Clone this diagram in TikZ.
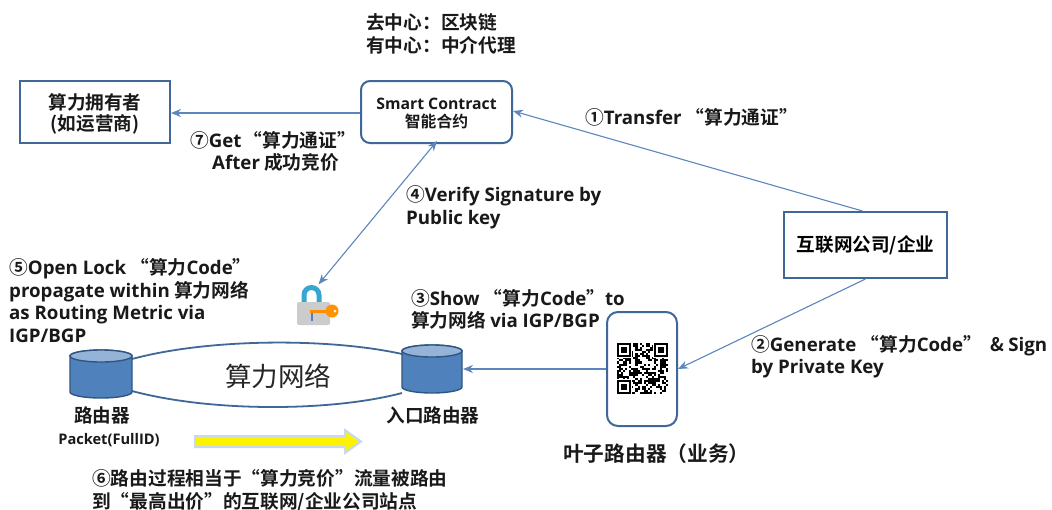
\documentclass[tikz,border=0pt]{standalone}
\usepackage{fontspec}
\setmainfont{Noto Sans CJK SC}[BoldFont={Noto Sans CJK SC Bold}]
\newfontfamily\lat{Open Sans}[BoldFont={Open Sans Bold}]
\newcommand{\la}[1]{{\lat #1}}
\usetikzlibrary{arrows.meta,shapes.geometric,shapes.arrows}
\definecolor{boxb}{HTML}{3F6797}
\definecolor{lineb}{HTML}{5B87BE}
\definecolor{cylb}{HTML}{4F81BD}
\definecolor{cylt}{HTML}{95B3D7}
\definecolor{cyle}{HTML}{2F5680}
\definecolor{arrowedge}{HTML}{C6D9F1}
\tikzset{
 x=1pt,y=-1pt,
 cbox/.style={draw=boxb,line width=2pt,fill=white,inner sep=0pt,font=\bfseries\fontsize{18.6}{22}\selectfont,align=center},
 conn/.style={draw=lineb,line width=1.1pt,-{Stealth[length=10pt,width=8pt]}},
 txt/.style={font=\bfseries\fontsize{18.7}{22.5}\selectfont,align=left,anchor=north west,inner sep=0pt,text=black!90},
 caplabel/.style={font=\bfseries\fontsize{18.6}{20}\selectfont,inner sep=0pt,text=black!90},
 netline/.style={draw=boxb,line width=1.8pt},
}
\newcommand{\cyl}[4]{% x1,x2,ytop,ybottom
 \fill[cylb,draw=cyle,line width=1.4pt] (#1,#3) -- (#1,#4) arc[x radius={(#2-#1)/2},y radius=6,start angle=180,end angle=0] -- (#2,#3) arc[x radius={(#2-#1)/2},y radius=6,start angle=0,end angle=-180] -- cycle;
 \fill[cylt,draw=cyle,line width=1.4pt] ({(#1+#2)/2},#3) ellipse[x radius={(#2-#1)/2},y radius=6];
}
\begin{document}
\begin{tikzpicture}
\useasboundingbox (0,0) rectangle (1052,509);
\fill[white] (0,0) rectangle (1052,509);
% boxes
\node[cbox,minimum width=150pt,minimum height=62pt] (owner) at (95,112) {};
\node[font=\bfseries\fontsize{18.6}{21.5}\selectfont,align=center,inner sep=0pt,text=black!90] (ownert) at (95,114) {算力拥有者\\(如运营商)};
\node[cbox,rounded corners=9pt,minimum width=151pt,minimum height=62pt] (sc) at (436.5,112) {};
\node[font=\bfseries\fontsize{15.8}{18}\selectfont,align=center,inner sep=0pt,text=black!90] (sct) at (436.5,113.5) {\la{Smart Contract}\\智能合约};
\node[cbox,minimum width=163pt,minimum height=66pt] (corp) at (865.5,245) {互联网公司/企业};
\node[cbox,rounded corners=11pt,minimum width=70pt,minimum height=114pt] (leaf) at (642,369) {};
% QR
\pgfmathsetseed{7}
\begin{scope}[shift={(617,343)}]
\foreach \i in {0,...,24}{\foreach \j in {0,...,24}{
  \pgfmathtruncatemacro{\r}{random(0,99)}
  \ifnum\r<50 \fill[black] (\i*2.05,\j*2.05) rectangle +(2.05,2.05);\fi
}}
\foreach \a/\b in {0/0,18/0,0/18}{
  \fill[white] (\a*2.05-1,\b*2.05-1) rectangle +(16.4,16.4);
  \fill[black] (\a*2.05,\b*2.05) rectangle +(14.35,14.35);
  \fill[white] (\a*2.05+2.05,\b*2.05+2.05) rectangle +(10.25,10.25);
  \fill[black] (\a*2.05+4.1,\b*2.05+4.1) rectangle +(6.15,6.15);
}
\end{scope}
% network
\draw[netline] (132,359) .. controls (210,338) and (330,338) .. (402,354);
\draw[netline] (132,391) .. controls (210,412) and (330,412) .. (402,393);
\node[font=\fontsize{26.5}{30}\selectfont,inner sep=0pt,text=black!85] (net) at (278,376) {算力网络};
\cyl{70}{132}{356}{392}
\cyl{402}{462}{351}{387}
\coordinate (ingress) at (463,369);
\node[caplabel] (l1) at (102,415) {路由器};
\node[caplabel] (l2) at (433,415) {入口路由器};
\node[font=\lat\bfseries\fontsize{14.6}{15}\selectfont,inner sep=0pt,text=black!90] (pk) at (109,440) {Packet(FullID)};
% yellow arrow
\draw[draw=arrowedge,line width=2pt,fill=yellow,line join=miter] (195,436) -- (345,436) -- (345,430) -- (361,441.5) -- (345,453) -- (345,447) -- (195,447) -- cycle;
% lock
\draw[line width=5pt,draw=cylb!70!cyan] (304,305) -- (304,295) arc[x radius=7.5,y radius=7.5,start angle=180,end angle=360] -- (319,305);
\fill[black!20,rounded corners=2pt] (297,302) rectangle (330,325);
\draw[line width=2.5pt,cylb] (312,310) -- (312,321);
\draw[line width=3pt,orange!90!yellow] (310,311) -- (330,311);
\fill[orange!85!yellow] (332,311) circle (6.5);
\fill[white] (335,311) circle (1.5);
\node[inner sep=0pt,minimum size=1pt] (lock) at (318,285) {};
% connectors
\draw[conn] (sc.west |- 0,113) -- (owner.east |- 0,113);
\draw[conn] (corp.north) ++(-3,0) -- ([yshift=1pt]sc.east);
\draw[conn] (corp.south) -- (leaf.east);
\draw[conn] (leaf.west) -- (ingress);
\draw[draw=lineb,line width=1.1pt,{Stealth[length=10pt,width=8pt]}-{Stealth[length=10pt,width=8pt]}] ([xshift=.5pt,yshift=3pt]sc.south) -- (lock);
% texts
\node[txt] (t0) at (366,13.5) {去中心：区块链\\有中心：中介代理};
\node[txt] (t1) at (585,108.5) {①\la{Transfer} “算力通证”};
\node[txt] (t7) at (190,131) {⑦\la{Get}\hspace{-2pt} “算力通证”\\\hspace*{22pt}\la{After} 成功竞价};
\node[txt] (t4) at (406,185.5) {④\la{Verify Signature by}\\\la{Public key}};
\node[txt] (t5) at (9,258.5) {⑤\la{Open Lock} “算力\la{Code}”\\\la{propagate within} 算力网络\\\la{as Routing Metric via}\\\la{IGP/BGP}};
\node[txt] (t3) at (411,289) {③\la{Show} “算力\la{Code}”\la{to}\\算力网络 \la{via IGP/BGP}};
\node[txt] (t2) at (751,335) {②\la{Generate} “算力\la{Code}”\ \ \& \la{Sign}\\\la{by Private Key}};
\node[txt,font=\bfseries\fontsize{20.7}{24}\selectfont] (t8) at (563,443) {叶子路由器（业务）};
\node[txt] (t6) at (92,469.5) {⑥路由过程相当于“算力竞价”流量被路由\\到“最高出价”的互联网/企业公司站点};
\end{tikzpicture}
\end{document}
